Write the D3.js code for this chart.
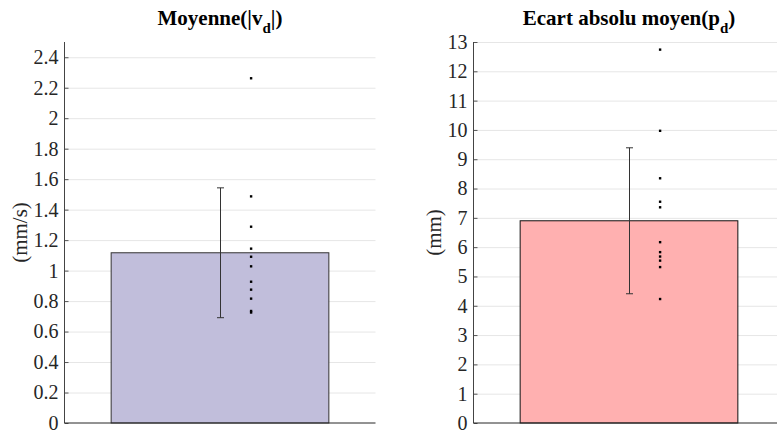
<!DOCTYPE html>
<html><head><meta charset="utf-8">
<script src="https://cdn.jsdelivr.net/npm/d3@7"></script>
<style>body{margin:0;background:#fff}svg{display:block}</style>
</head><body>
<svg id="c" width="777" height="432"></svg>
<script>
// Panel 1: Moyenne(|v_d|)
const leftMean = 1.117;
const leftErr = 0.426;
const leftPoints = [2.262, 1.487, 1.288, 1.144, 1.091, 1.028, 0.927, 0.875, 0.816, 0.735, 0.725];
const leftTicks = [0, 0.2, 0.4, 0.6, 0.8, 1, 1.2, 1.4, 1.6, 1.8, 2, 2.2, 2.4];
// Panel 2: Ecart absolu moyen(p_d)
const rightMean = 6.90;
const rightErr = 2.49;
const rightPoints = [12.74, 9.97, 8.35, 7.55, 7.36, 6.17, 5.83, 5.68, 5.54, 5.32, 4.23];
const rightTicks = [0,1,2,3,4,5,6,7,8,9,10,11,12,13];

const svg = d3.select('#c');
const FONT = "'Liberation Serif', 'Times New Roman', serif";

function panel(o){
  const g = svg.append('g');
  const x = d3.scaleLinear().domain([0.5,1.5]).range([o.x0, o.x1]);
  const y = d3.scaleLinear().domain([0, o.ymax]).range([423, 42]);
  // grid
  g.selectAll('line.grid').data(o.ticks.filter(t=>t>0)).join('line')
    .attr('x1', o.x0).attr('x2', o.x1)
    .attr('y1', d=>y(d)+0.5).attr('y2', d=>y(d)+0.5)
    .attr('stroke', '#e6e6e6').attr('stroke-width', 1);
  // bar
  g.append('rect')
    .attr('x', x(0.65)).attr('width', x(1.35)-x(0.65))
    .attr('y', y(o.mean)).attr('height', y(0)-y(o.mean))
    .attr('fill', o.color).attr('stroke', o.edge).attr('stroke-width', 1);
  // error bar
  const ex = Math.round(x(1))+0.5;
  const eg = g.append('g').attr('stroke', '#333').attr('stroke-width', 1);
  eg.append('line').attr('x1', ex).attr('x2', ex).attr('y1', y(o.mean+o.err)).attr('y2', y(o.mean-o.err));
  [o.mean+o.err, o.mean-o.err].forEach(v=>{
    eg.append('line').attr('x1', ex-3.5).attr('x2', ex+3.5).attr('y1', y(v)).attr('y2', y(v));
  });
  // points
  g.selectAll('rect.pt').data(o.points).join('rect')
    .attr('x', x(1.1)-1.2).attr('y', d=>y(d)-1.2)
    .attr('width', 2.4).attr('height', 2.4).attr('fill', '#000');
  // y axis
  const ax = g.append('g').attr('transform', `translate(${o.x0},0)`)
    .call(d3.axisLeft(y).tickValues(o.ticks).tickSize(-4).tickPadding(6).tickFormat(d=>String(d)));
  ax.attr('font-family', null).attr('font-size', null);
  ax.select('.domain').remove();
  ax.selectAll('.tick line').attr('stroke', '#555');
  ax.selectAll('.tick text').style('font-family', FONT).style('font-size', '20px').attr('fill', '#262626');
  g.append('line').attr('x1', o.x0).attr('x2', o.x0).attr('y1', 42).attr('y2', 423)
    .attr('stroke', '#444').attr('stroke-width', 1);
  g.append('line').attr('x1', o.x0).attr('x2', o.x1).attr('y1', 423).attr('y2', 423)
    .attr('stroke', '#262626').attr('stroke-width', 1);
  // y label
  g.append('text').attr('transform', `translate(${o.lx},232.5) rotate(-90)`)
    .attr('text-anchor', 'middle').style('font-family', FONT).style('font-size', '21px')
    .attr('fill', '#262626').text(o.ylabel);
  // title
  const t = g.append('text').attr('x', (o.x0+o.x1)/2).attr('y', 25)
    .attr('text-anchor', 'middle').style('font-family', FONT).style('font-size', '21px')
    .attr('font-weight', 'bold').attr('fill', '#000');
  t.append('tspan').text(o.t1);
  t.append('tspan').attr('dy', 8).style('font-size', '15px').text('d');
  t.append('tspan').attr('dy', -8).text(o.t2);
}

panel({x0:64.5, x1:375.5, ymax:2.5, mean:leftMean, err:leftErr, points:leftPoints, ticks:leftTicks,
  color:'#c1bedb', edge:'#333', ylabel:'(mm/s)', lx:27, t1:'Moyenne(|v', t2:'|)'});
panel({x0:473.5, x1:784.5, ymax:13, mean:rightMean, err:rightErr, points:rightPoints, ticks:rightTicks,
  color:'#ffb0b0', edge:'#111', ylabel:'(mm)', lx:441, t1:'Ecart absolu moyen(p', t2:')'});
</script>
</body></html>
